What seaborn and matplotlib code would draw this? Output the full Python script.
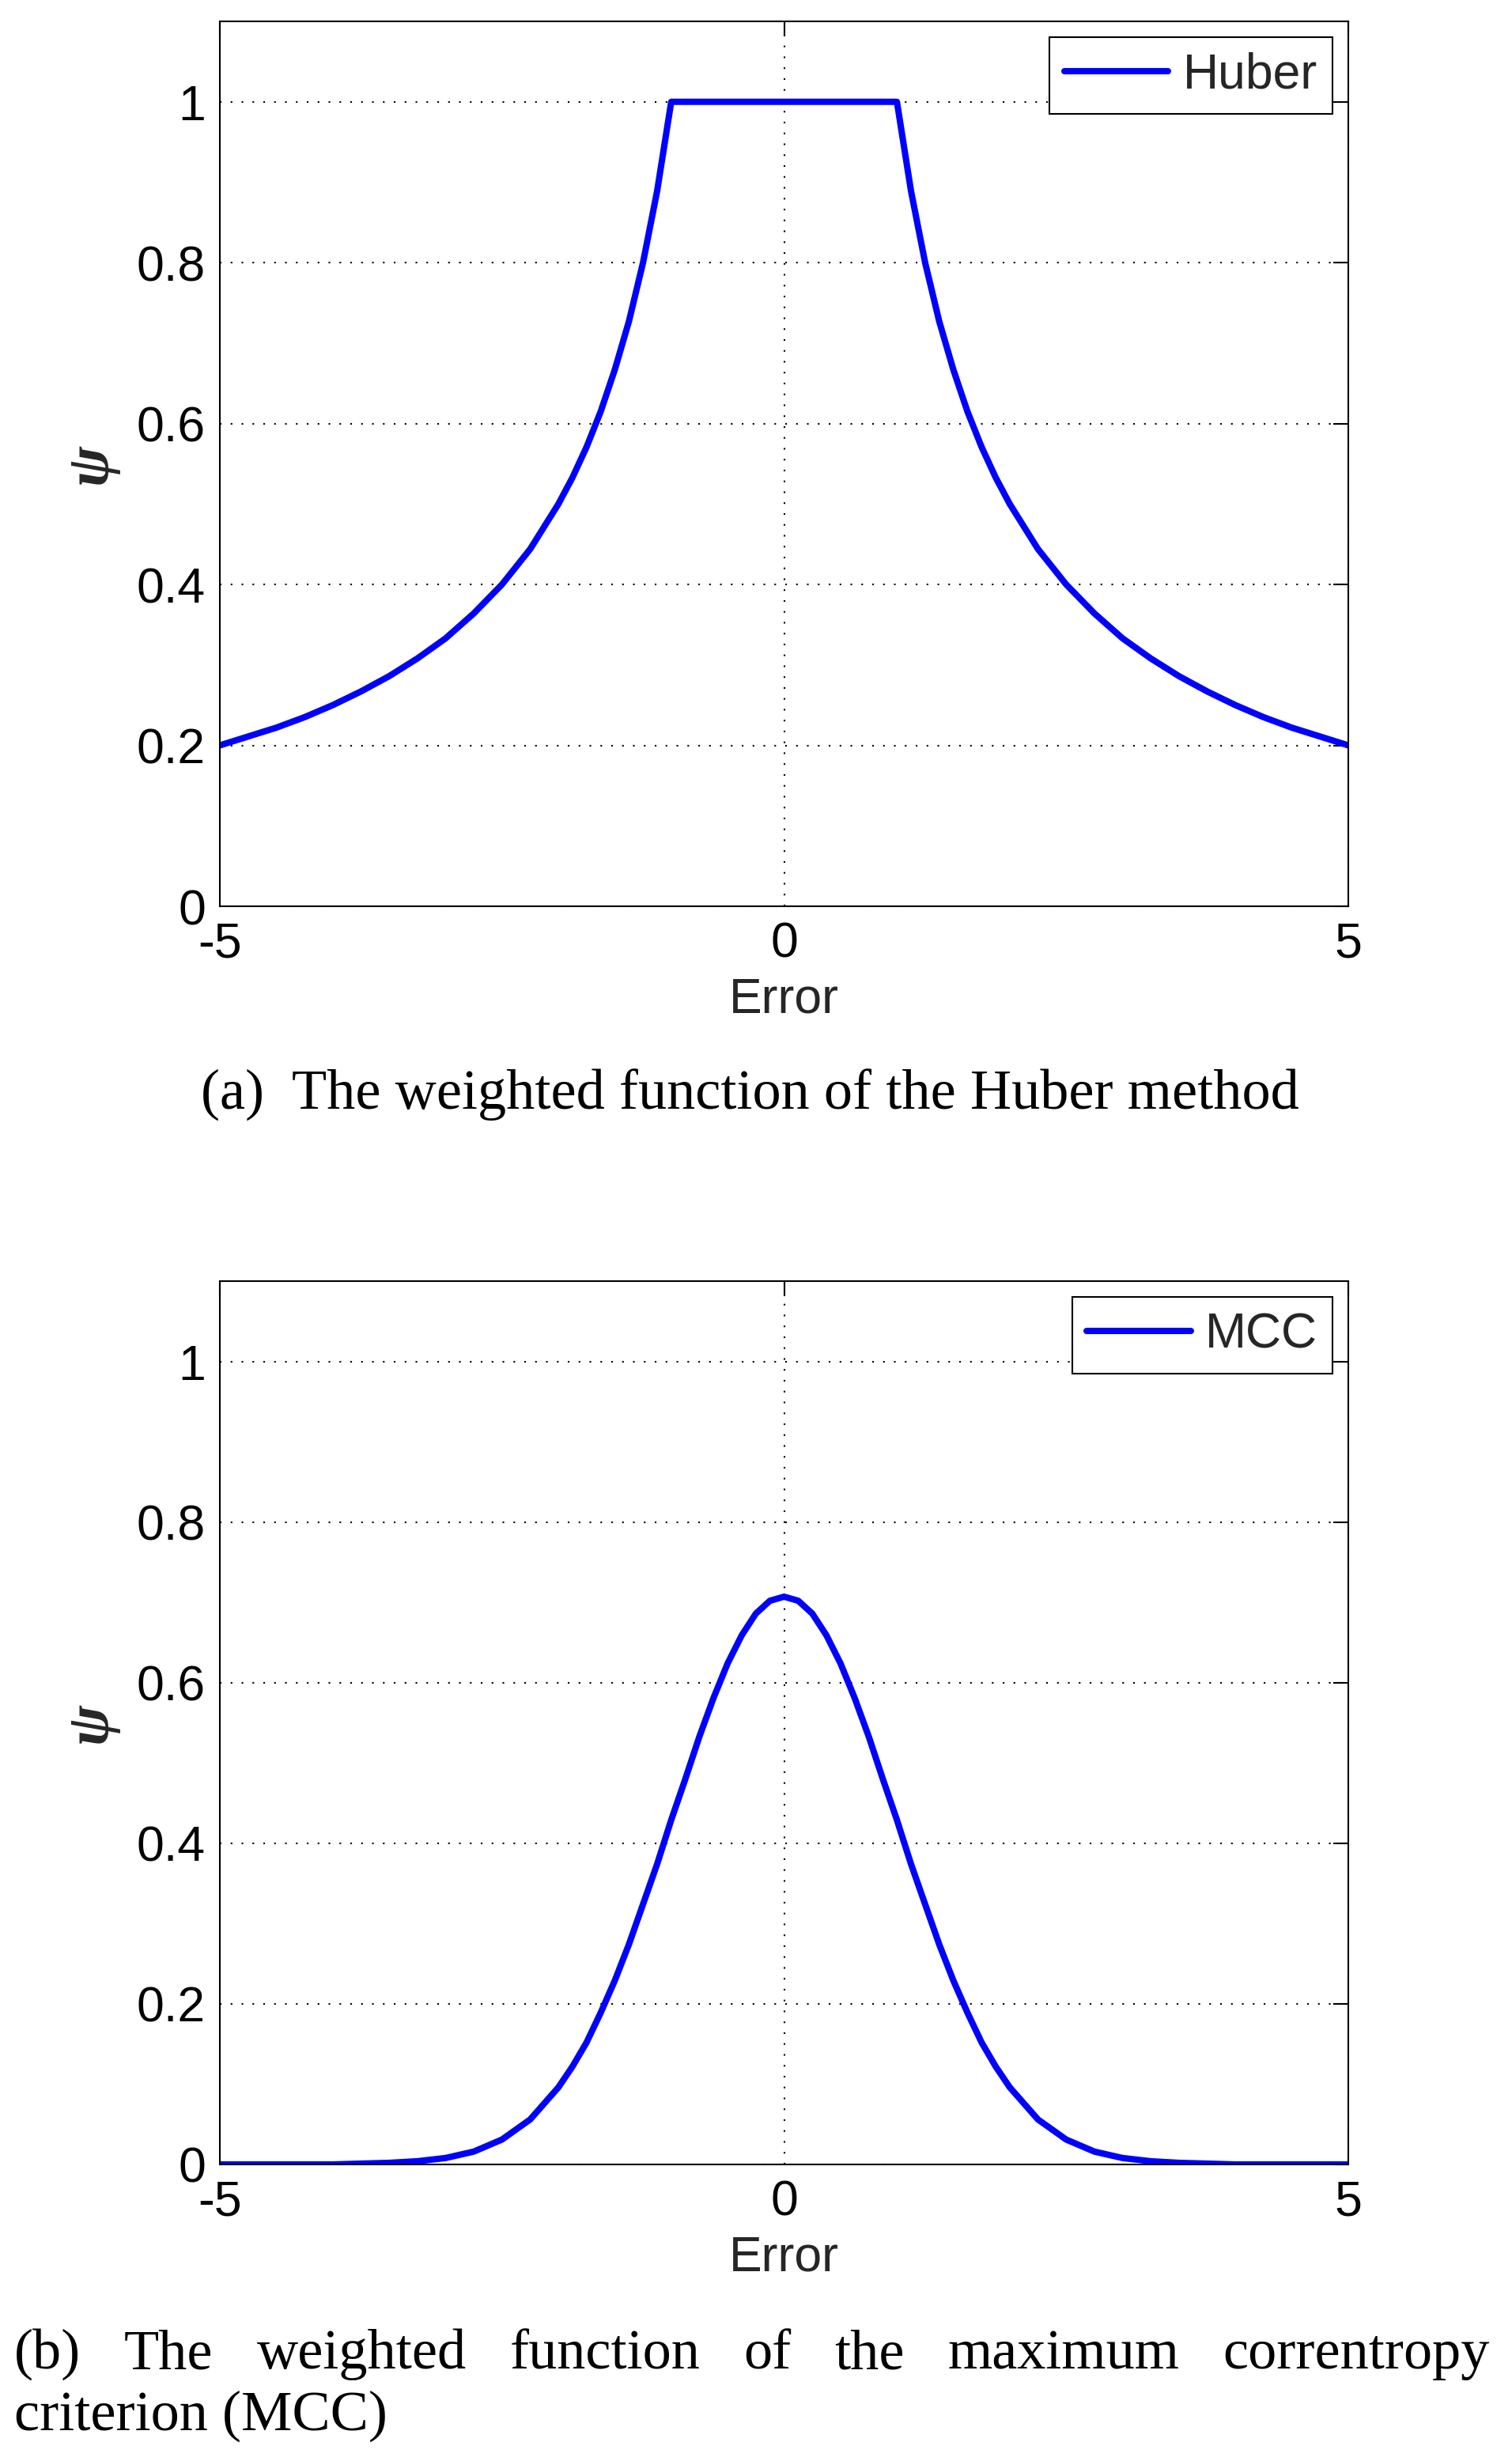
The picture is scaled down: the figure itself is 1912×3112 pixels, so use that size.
import matplotlib
matplotlib.use("Agg")
import matplotlib.pyplot as plt
import pandas as pd
import seaborn as sns

# Huber weight curve
huber_err = [-5, -4.75, -4.5, -4.25, -4, -3.75, -3.5, -3.25, -3, -2.75, -2.5, -2.25,
             -2, -1.875, -1.75, -1.625, -1.5, -1.375, -1.25, -1.125, -1,
             1, 1.125, 1.25, 1.375, 1.5, 1.625, 1.75, 1.875, 2,
             2.25, 2.5, 2.75, 3, 3.25, 3.5, 3.75, 4, 4.25, 4.5, 4.75, 5]
huber_psi = [0.2, 0.211, 0.222, 0.235, 0.25, 0.267, 0.286, 0.308, 0.333, 0.364, 0.4, 0.444,
             0.5, 0.533, 0.571, 0.615, 0.667, 0.727, 0.8, 0.889, 1.0,
             1.0, 0.889, 0.8, 0.727, 0.667, 0.615, 0.571, 0.533, 0.5,
             0.444, 0.4, 0.364, 0.333, 0.308, 0.286, 0.267, 0.25, 0.235, 0.222, 0.211, 0.2]

# MCC weight curve
mcc_err = [-5, -4.75, -4.5, -4.25, -4, -3.75, -3.5, -3.25, -3, -2.75, -2.5, -2.25,
           -2, -1.875, -1.75, -1.625, -1.5, -1.375, -1.25, -1.125, -1, -0.875,
           -0.75, -0.625, -0.5, -0.375, -0.25, -0.125, 0,
           0.125, 0.25, 0.375, 0.5, 0.625, 0.75, 0.875, 1, 1.125, 1.25, 1.375,
           1.5, 1.625, 1.75, 1.875, 2,
           2.25, 2.5, 2.75, 3, 3.25, 3.5, 3.75, 4, 4.25, 4.5, 4.75, 5]
mcc_psi = [0, 0, 0, 0, 0, 0.001, 0.002, 0.004, 0.008, 0.016, 0.031, 0.056,
           0.096, 0.122, 0.152, 0.189, 0.229, 0.274, 0.324, 0.374, 0.429, 0.480,
           0.533, 0.581, 0.624, 0.659, 0.686, 0.702, 0.707,
           0.702, 0.686, 0.659, 0.624, 0.581, 0.533, 0.480, 0.429, 0.374, 0.324, 0.274,
           0.229, 0.189, 0.152, 0.122, 0.096,
           0.056, 0.031, 0.016, 0.008, 0.004, 0.002, 0.001, 0, 0, 0, 0, 0]

x_ticks = [-5, 0, 5]
x_tick_labels = ["-5", "0", "5"]
y_ticks = [0, 0.2, 0.4, 0.6, 0.8, 1.0]
y_tick_labels = ["0", "0.2", "0.4", "0.6", "0.8", "1"]

caption_a = "(a)  The weighted function of the Huber method"
caption_b1 = "(b) The weighted function of the maximum correntropy"
caption_b2 = "criterion (MCC)"

sns.set_style("white")
plt.rcParams["font.family"] = ["Liberation Sans", "DejaVu Sans"]
plt.rcParams["axes.unicode_minus"] = False

W, H = 1912, 3112
fig = plt.figure(figsize=(W / 100, H / 100), dpi=100)
fig.patch.set_facecolor("white")

FS = 45


def panel(rect, x, y, name):
    ax = fig.add_axes(rect)
    df = pd.DataFrame({"Error": x, "psi": y})
    sns.lineplot(data=df, x="Error", y="psi", color="#0000ff", linewidth=5.8,
                 label=name, ax=ax, zorder=3)
    ax.set_xlim(-5, 5)
    ax.set_ylim(0, 1.1)
    ax.set_xticks(x_ticks, labels=x_tick_labels)
    ax.set_yticks(y_ticks, labels=y_tick_labels)
    ax.grid(True, color="black", linewidth=1.5, linestyle=(0, (1, 5.6)))
    for s in ax.spines.values():
        s.set_visible(True)
        s.set_color("black")
        s.set_linewidth(1.5)
        s.set_zorder(4)
    ax.tick_params(direction="in", length=13.7, width=1.5, top=True, right=True,
                   labelsize=FS, colors="black")
    ax.tick_params(axis="y", pad=13)
    ax.tick_params(axis="x", pad=13)
    ax.set_xlabel("Error", fontsize=FS, labelpad=8)
    ax.set_ylabel("ψ", fontsize=55, family="Liberation Serif", style="italic",
                  fontweight="bold")
    ax.yaxis.set_label_coords(-0.09, 0.5)
    leg = ax.legend(loc="upper right", fontsize=FS, frameon=True, fancybox=False,
                    edgecolor="black", framealpha=1, borderpad=0.3,
                    handlelength=2.1, handletextpad=0.3, borderaxespad=0.32)
    leg.get_frame().set_linewidth(1.5)
    return ax


left = 278 / W
width = (1705 - 278) / W
panel([left, 1 - 1146 / H, width, (1146 - 27) / H], huber_err, huber_psi, "Huber")
panel([left, 1 - 2737 / H, width, (2737 - 1620) / H], mcc_err, mcc_psi, "MCC")

cap_kw = dict(fontsize=52, family="Liberation Serif", color="black", va="baseline")
fig.text(948 / W, 1 - 1403 / H, caption_a, ha="center", **cap_kw)

# justified first line of caption (b)
words = caption_b1.split()
texts = [fig.text(0, 1 - 2995 / H, w, ha="left", **cap_kw) for w in words]
fig.canvas.draw()
r = fig.canvas.get_renderer()
widths = [t.get_window_extent(r).width for t in texts]
x0, x1 = 18, 1884
gap = (x1 - x0 - sum(widths)) / (len(words) - 1)
xp = x0
for t, w in zip(texts, widths):
    t.set_x(xp / W)
    xp += w + gap
fig.text(x0 / W, 1 - 3073 / H, caption_b2, ha="left", **cap_kw)

fig.savefig("out.png", dpi=100, facecolor="white")
